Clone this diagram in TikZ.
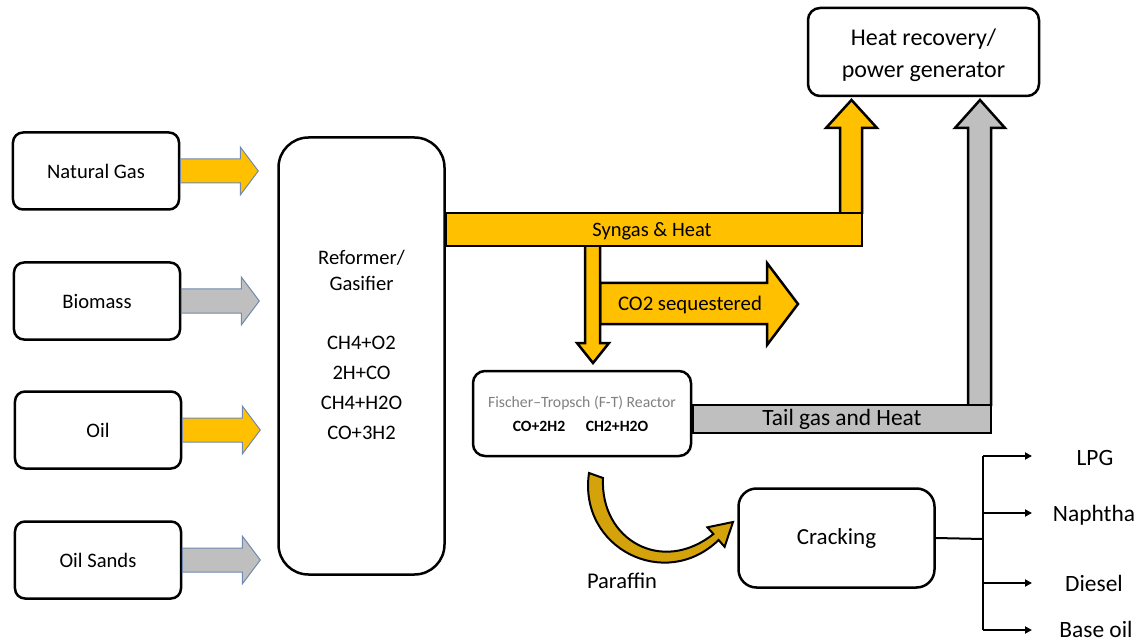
\documentclass[tikz,border=0pt]{standalone}
\usepackage{fontspec}
\setmainfont{Carlito}
\usetikzlibrary{arrows.meta,calc}
\definecolor{gold}{HTML}{FFC000}
\definecolor{greyfill}{HTML}{BFBFBF}
\definecolor{inedge}{HTML}{7189B0}
\definecolor{paragold}{HTML}{D4A20A}
\definecolor{fttext}{HTML}{808080}
\newcommand\fsz[2]{\fontsize{#1bp}{#2bp}\selectfont}
\tikzset{
  srcbox/.style={draw, line width=2.5bp, rounded corners=10bp, fill=white,
    minimum width=166bp, minimum height=77bp, inner sep=0pt, font=\fsz{20.6}{24}},
  rbox/.style={draw, line width=2.5bp, rounded corners=12bp, fill=white, inner sep=0pt},
  inarrow/.style={draw=inedge, line width=1bp},
  bigarrow/.style={draw=black, line width=2.5bp, line join=miter},
  txt/.style={inner sep=0pt, align=center},
  branch/.style={line width=2bp, -{Triangle[length=7bp,width=7bp]}},
}
\begin{document}
\begin{tikzpicture}[x=1bp,y=-1bp]
\useasboundingbox (0,0) rectangle (1143,644);

% source boxes
\node[srcbox] (ng) at (96,171) {Natural Gas};
\node[srcbox] (bio) at (97,301) {Biomass};
\node[srcbox] (oil) at (98,430) {Oil};
\node[srcbox] (os) at (98,560) {Oil Sands};

% reformer
\node[rbox, rounded corners=30bp, minimum width=166bp, minimum height=437bp] (ref) at (361.5,356) {};
\node[txt, font=\fsz{20.6}{26}] (reft) at (361.5,270) {Reformer/\\Gasifier};
\node[txt, font=\fsz{20.6}{30}] (reac) at (361.5,388) {CH4+O2\\2H+CO\\CH4+H2O\\CO+3H2};

% input block arrows
\draw[inarrow, fill=gold] (ng.east) ++(0,-12) -- ++(60,0) -- ++(0,-12) -- ++(18,24) -- ++(-18,24) -- ++(0,-12) -- ++(-60,0) -- cycle;
\draw[inarrow, fill=greyfill] (bio.east) ++(0,-12) -- ++(60,0) -- ++(0,-12) -- ++(18,24) -- ++(-18,24) -- ++(0,-12) -- ++(-60,0) -- cycle;
\draw[inarrow, fill=gold] (oil.east) ++(0,-12) -- ++(60,0) -- ++(0,-12) -- ++(18,24) -- ++(-18,24) -- ++(0,-12) -- ++(-60,0) -- cycle;
\draw[inarrow, fill=greyfill] (os.east) ++(0,-12) -- ++(60,0) -- ++(0,-12) -- ++(18,24) -- ++(-18,24) -- ++(0,-12) -- ++(-60,0) -- cycle;

% heat recovery box
\node[rbox, minimum width=231bp, minimum height=88bp] (hr) at (923.5,52) {};
\node[txt, font=\fsz{24}{32}] (hrt) at (923.5,55) {Heat recovery/\\power generator};

% F-T reactor
\node[rbox, minimum width=218bp, minimum height=85bp] (ft) at (582,413.5) {};
\node[txt, font=\fsz{15.7}{18}, text=fttext] (ftn) at (582,403) {Fischer–Tropsch (F-T) Reactor};
\node[txt, font=\bfseries\fsz{15.7}{18}] (ftr1) at (539,426) {CO+2H2};
\node[txt, font=\bfseries\fsz{15.7}{18}] (ftr2) at (617,426) {CH2+H2O};

% cracking
\node[rbox, rounded corners=18bp, minimum width=196bp, minimum height=99bp, font=\fsz{23}{26}] (crk) at (836.5,538) {Cracking};

% syngas: vertical arrow up to heat recovery
\draw[bigarrow, fill=gold] (840,214) -- (840,128) -- (826,128) -- (851.5,100) -- (877,128) -- (862,128) -- (862,214);
% CO2 arrow
\draw[bigarrow, fill=gold] (600,283) -- (767,283) -- (767,263) -- (798,304) -- (767,345) -- (767,324) -- (600,324) -- cycle;
% down arrow to F-T
\draw[bigarrow, fill=gold] (585,246) -- (585,343) -- (577,343) -- (593,363) -- (609,343) -- (600,343) -- (600,246);
% syngas bar
\draw[bigarrow, fill=gold] (ref.east |- 0,213) rectangle (862,246);
\node[txt, font=\fsz{20.5}{22}] (syn) at (652,231) {Syngas \& Heat};
\node[txt, font=\fsz{20.8}{22}] (co2) at (690,305) {CO2 sequestered};

% tail gas: vertical arrow up
\draw[bigarrow, fill=greyfill] (968,406) -- (968,128) -- (955,128) -- (980,100) -- (1005,128) -- (991,128) -- (991,406);
\draw[bigarrow, fill=greyfill] (ft.east |- 0,405) rectangle (991,433);
\node[txt, font=\fsz{23.4}{24}] (tail) at (842,419) {Tail gas and Heat};

% paraffin curved arrow
\draw[line width=2bp, fill=paragold, line join=miter]
  (589,473) .. controls (578,548) and (665,592) .. (718.6,540)
  -- (724.6,546.8) -- (733,522) -- (707.4,527.3) -- (713.4,534)
  .. controls (662,575) and (600,540) .. (603,478) -- cycle;
\node[txt, font=\fsz{22.5}{24}] (par) at (622,581) {Paraffin};

% product tree
\coordinate (br) at (983,539);
\coordinate (bt) at (983,456);
\coordinate (bb) at (983,630);
\coordinate (aL) at (1032,456);
\coordinate (aN) at (1032,513);
\coordinate (aD) at (1032,583);
\coordinate (aB) at (1032,630);
\draw[line width=2bp] (crk.east) -- (br);
\draw[line width=2bp] (bt) -- (bb);
\draw[branch] (bt) -- (aL);
\draw[branch] (br |- aN) -- (aN);
\draw[branch] (br |- aD) -- (aD);
\draw[branch] (bb) -- (aB);
\node[txt, font=\fsz{23.4}{24}] (lpg) at (1095,458) {LPG};
\node[txt, font=\fsz{23.4}{24}] (nap) at (1094,515) {Naphtha};
\node[txt, font=\fsz{23.4}{24}] (die) at (1094,583) {Diesel};
\node[txt, font=\fsz{23.4}{24}] (bo) at (1096,629) {Base oil};
\end{tikzpicture}
\end{document}
